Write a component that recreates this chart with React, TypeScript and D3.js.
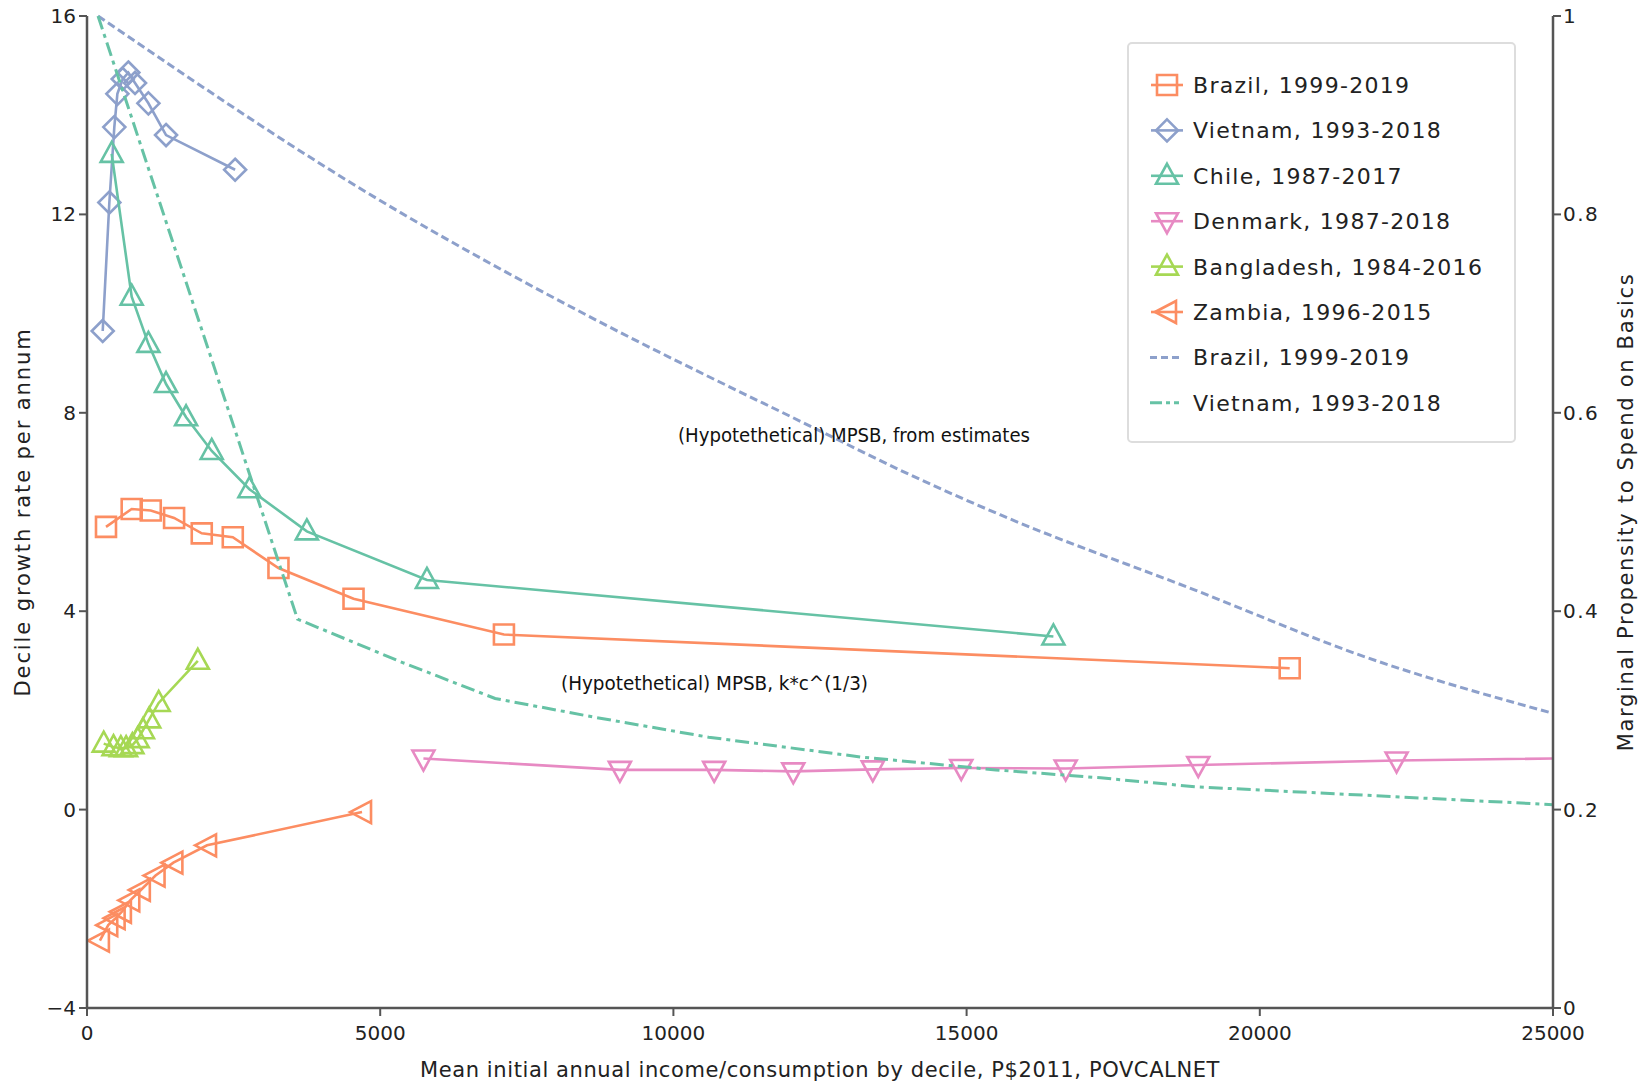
import React from "react";
import * as d3 from "d3";

const WIDTH = 1648;
const HEIGHT = 1086;
const MARGIN = { top: 16, right: 95, bottom: 78, left: 87 };

// decile growth series (x = mean initial income, y = growth % p.a.)
const brazilX = [324, 762, 1087, 1485, 1957, 2486, 3265, 4545, 7110, 20510];
const brazilY = [5.7, 6.06, 6.03, 5.88, 5.57, 5.49, 4.87, 4.25, 3.53, 2.85];
const vietnamX = [268, 381, 466, 518, 609, 705, 819, 1047, 1348, 2526];
const vietnamY = [9.65, 12.24, 13.76, 14.43, 14.73, 14.86, 14.65, 14.24, 13.6, 12.9];
const chileX = [421, 762, 1047, 1348, 1690, 2127, 2770, 3749, 5797, 16480];
const chileY = [13.22, 10.34, 9.39, 8.58, 7.91, 7.23, 6.46, 5.61, 4.63, 3.49];
const denmarkX = [5737, 9087, 10695, 12044, 13400, 14909, 16690, 18951, 22333, 36000];
const denmarkY = [1.03, 0.8, 0.8, 0.77, 0.81, 0.84, 0.83, 0.9, 0.99, 1.2];
const bangladeshX = [285, 452, 577, 667, 774, 864, 954, 1061, 1222, 1890];
const bangladeshY = [1.33, 1.26, 1.24, 1.24, 1.3, 1.42, 1.6, 1.82, 2.15, 3.0];
const zambiaX = [220, 362, 488, 595, 738, 918, 1169, 1473, 2047, 4690];
const zambiaY = [-2.64, -2.33, -2.19, -2.06, -1.83, -1.62, -1.33, -1.07, -0.72, -0.05];

// MPSB curves on the right axis
const mpsbEstX = [188, 5341, 7048, 8601, 12526, 13874, 15580, 18908, 21793, 25000];
const mpsbEstY = [1.0, 0.802, 0.745, 0.696, 0.581, 0.542, 0.497, 0.421, 0.354, 0.297];
const mpsbCubeX = [188, 3590, 5393, 6960, 8666, 10600, 13200, 15500, 17287, 18908, 25000];
const mpsbCubeY = [1.0, 0.392, 0.348, 0.312, 0.293, 0.273, 0.253, 0.24, 0.232, 0.223, 0.205];

const xTicks = [0, 5000, 10000, 15000, 20000, 25000];
const yTicks = [-4, 0, 4, 8, 12, 16];
const yRightTicks = [0, 0.2, 0.4, 0.6, 0.8, 1];

const ORANGE = "#fc8d62";
const BLUE = "#8da0cb";
const GREEN = "#66c2a5";
const PINK = "#e78ac3";
const LIME = "#a6d854";

const series = [
  { name: "Brazil, 1999-2019", xs: brazilX, ys: brazilY, color: ORANGE, marker: "square" },
  { name: "Vietnam, 1993-2018", xs: vietnamX, ys: vietnamY, color: BLUE, marker: "diamond" },
  { name: "Chile, 1987-2017", xs: chileX, ys: chileY, color: GREEN, marker: "up" },
  { name: "Denmark, 1987-2018", xs: denmarkX, ys: denmarkY, color: PINK, marker: "down" },
  { name: "Bangladesh, 1984-2016", xs: bangladeshX, ys: bangladeshY, color: LIME, marker: "up" },
  { name: "Zambia, 1996-2015", xs: zambiaX, ys: zambiaY, color: ORANGE, marker: "left" },
];

const curves = [
  { name: "Brazil, 1999-2019", xs: mpsbEstX, ys: mpsbEstY, color: BLUE, dash: "8,4", smooth: true },
  { name: "Vietnam, 1993-2018", xs: mpsbCubeX, ys: mpsbCubeY, color: GREEN, dash: "14,5,4,5", smooth: false },
];

const markerPath = (m: string) => {
  switch (m) {
    case "square":
      return "M-10,-10H10V10H-10Z";
    case "diamond":
      return "M0,-11L11,0L0,11L-11,0Z";
    case "up":
      return "M0,-12L11,8L-11,8Z";
    case "down":
      return "M0,12L11,-8L-11,-8Z";
    default:
      return "M-12,0L9,-11L9,11Z";
  }
};

const FONT = "'DejaVu Sans', Verdana, sans-serif";
const NARROW = "'Liberation Sans Narrow', 'DejaVu Sans Condensed', sans-serif";

export default function App() {
  const x0 = MARGIN.left;
  const x1 = WIDTH - MARGIN.right;
  const y0 = HEIGHT - MARGIN.bottom;
  const y1 = MARGIN.top;

  const xScale = d3.scaleLinear().domain([0, 25000]).range([x0, x1]);
  const yScale = d3.scaleLinear().domain([-4, 16]).range([y0, y1]);
  const yRight = d3.scaleLinear().domain([0, 1]).range([y0, y1]);

  const pathFor = (
    xs: number[],
    ys: number[],
    sy: d3.ScaleLinear<number, number>,
    smooth = false
  ) =>
    d3
      .line<[number, number]>()
      .x((d) => xScale(d[0]))
      .y((d) => sy(d[1]))
      .curve(smooth ? d3.curveMonotoneX : d3.curveLinear)(
      xs.map((x, i) => [x, ys[i]] as [number, number])
    ) || "";

  const legendX = 1128;
  const legendY = 43;
  const rowY = (i: number) => 85 + i * 45.4;

  return (
    <svg
      width={WIDTH}
      height={HEIGHT}
      style={{ position: "absolute", left: 0, top: 0, background: "#fff" }}
    >
      <defs>
        <clipPath id="plot">
          <rect x={x0} y={y1 - 2} width={x1 - x0} height={y0 - y1 + 4} />
        </clipPath>
      </defs>

      {/* country decile series */}
      <g clipPath="url(#plot)">
        {series.map((s) => (
          <g key={s.name + s.marker}>
            <path d={pathFor(s.xs, s.ys, yScale)} fill="none" stroke={s.color} strokeWidth={2.6} />
            {s.xs.map((x, i) => (
              <path
                key={i}
                d={markerPath(s.marker)}
                transform={`translate(${xScale(x)},${yScale(s.ys[i])})`}
                fill="none"
                stroke={s.color}
                strokeWidth={2.6}
              />
            ))}
          </g>
        ))}
        {curves.map((c) => (
          <path
            key={c.dash}
            d={pathFor(c.xs, c.ys, yRight, c.smooth)}
            fill="none"
            stroke={c.color}
            strokeWidth={3}
            strokeDasharray={c.dash}
          />
        ))}
      </g>

      {/* annotations */}
      <text x={678} y={442} fontFamily={NARROW} fontSize={19} fill="#111" textLength={352} lengthAdjust="spacingAndGlyphs">
        (Hypotethetical) MPSB, from estimates
      </text>
      <text x={561} y={690} fontFamily={NARROW} fontSize={19} fill="#111" textLength={307} lengthAdjust="spacingAndGlyphs">
        (Hypotethetical) MPSB, k*c^(1/3)
      </text>

      {/* axes */}
      <g stroke="#555" strokeWidth={2.5}>
        <line x1={x0} x2={x0} y1={y1} y2={y0 + 1} />
        <line x1={x1} x2={x1} y1={y1} y2={y0 + 1} />
        <line x1={x0} x2={x1} y1={y0} y2={y0} />
        {xTicks.map((t) => (
          <line key={t} x1={xScale(t)} x2={xScale(t)} y1={y0} y2={y0 + 8} strokeWidth={2} />
        ))}
        {yTicks.map((t) => (
          <line key={t} x1={x0 - 8} x2={x0} y1={yScale(t)} y2={yScale(t)} strokeWidth={2} />
        ))}
        {yRightTicks.map((t) => (
          <line key={t} x1={x1} x2={x1 + 8} y1={yRight(t)} y2={yRight(t)} strokeWidth={2} />
        ))}
      </g>
      <g fontFamily={FONT} fontSize={20} fill="#222">
        {xTicks.map((t) => (
          <text key={t} x={xScale(t)} y={y0 + 32} textAnchor="middle">
            {t}
          </text>
        ))}
        {yTicks.map((t) => (
          <text key={t} x={x0 - 11} y={yScale(t) + 7} textAnchor="end">
            {d3.format("d")(t)}
          </text>
        ))}
        {yRightTicks.map((t) => (
          <text key={t} x={x1 + 10} y={yRight(t) + 7} letterSpacing={1.5}>
            {d3.format("~g")(t)}
          </text>
        ))}
      </g>

      {/* axis titles */}
      <text
        x={(x0 + x1) / 2}
        y={1077}
        textAnchor="middle"
        fontFamily={FONT}
        fontSize={21}
        letterSpacing={0.6}
        fill="#222"
      >
        Mean initial annual income/consumption by decile, P$2011, POVCALNET
      </text>
      <text
        transform={`translate(30,${(y0 + y1) / 2}) rotate(-90)`}
        textAnchor="middle"
        fontFamily={FONT}
        fontSize={21}
        letterSpacing={1.9}
        fill="#222"
      >
        Decile growth rate per annum
      </text>
      <text
        transform={`translate(1633,${(y0 + y1) / 2}) rotate(-90)`}
        textAnchor="middle"
        fontFamily={FONT}
        fontSize={21}
        letterSpacing={1.7}
        fill="#222"
      >
        Marginal Propensity to Spend on Basics
      </text>

      {/* legend */}
      <rect
        x={legendX}
        y={legendY}
        width={387}
        height={399}
        rx={4}
        fill="#fff"
        stroke="#ddd"
        strokeWidth={2}
      />
      {series.map((s, i) => (
        <g key={"lg" + i} transform={`translate(1167,${rowY(i)})`}>
          <line x1={-16} x2={16} y1={0} y2={0} stroke={s.color} strokeWidth={2.6} />
          <path d={markerPath(s.marker)} fill="none" stroke={s.color} strokeWidth={2.6} />
          <text x={26} y={8} fontFamily={FONT} fontSize={22} letterSpacing={1.3} fill="#222">
            {s.name}
          </text>
        </g>
      ))}
      {curves.map((c, i) => (
        <g key={"lc" + i} transform={`translate(1167,${rowY(series.length + i)})`}>
          <line
            x1={-17}
            x2={12}
            y1={0}
            y2={0}
            stroke={c.color}
            strokeWidth={3}
            strokeDasharray={i === 0 ? "7,4" : "12,4,4,4"}
          />
          <text x={26} y={8} fontFamily={FONT} fontSize={22} letterSpacing={1.3} fill="#222">
            {c.name}
          </text>
        </g>
      ))}
    </svg>
  );
}
